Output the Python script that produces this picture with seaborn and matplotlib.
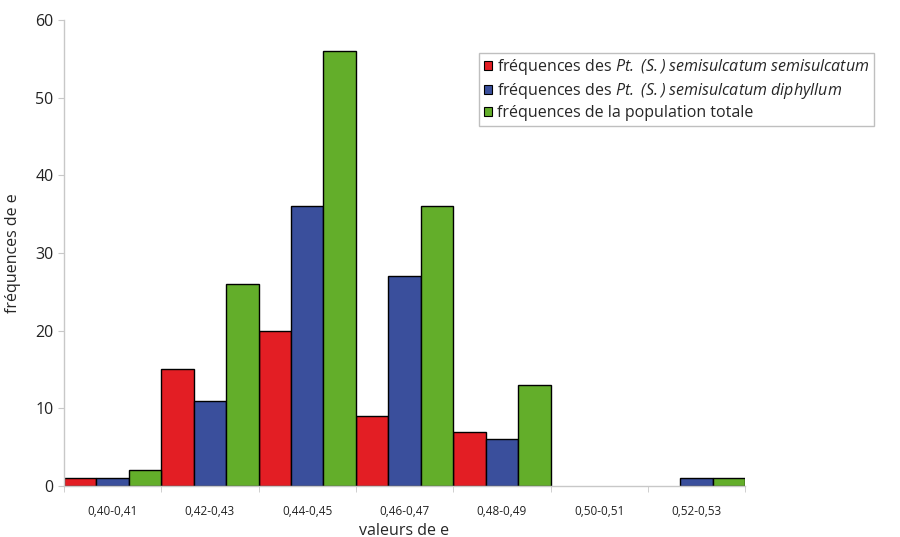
import numpy as np
import pandas as pd
import seaborn as sns
import matplotlib.pyplot as plt

# -----------------------------
# Data
# -----------------------------
classes = ['0,40-0,41', '0,42-0,43', '0,44-0,45', '0,46-0,47', '0,48-0,49', '0,50-0,51', '0,52-0,53']
freq_semisulcatum = [1, 15, 20, 9, 7, 0, 0]
freq_diphyllum = [1, 11, 36, 27, 6, 0, 1]
freq_totale = [2, 26, 56, 36, 13, 0, 1]

labels = [r'fréquences des $\mathit{Pt.}$ $\mathit{(S.)}$ $\mathit{semisulcatum}$ $\mathit{semisulcatum}$',
          r'fréquences des $\mathit{Pt.}$ $\mathit{(S.)}$ $\mathit{semisulcatum}$ $\mathit{diphyllum}$',
          'fréquences de la population totale']
colors = ['#e31e24', '#3a4f9c', '#63ae2a']

df = pd.DataFrame({
    'classe': classes * 3,
    'freq': freq_semisulcatum + freq_diphyllum + freq_totale,
    'serie': [labels[0]] * 7 + [labels[1]] * 7 + [labels[2]] * 7,
})

# -----------------------------
# Plot
# -----------------------------
sns.set_style('white')
plt.rcParams['font.family'] = ['Open Sans', 'DejaVu Sans']
plt.rcParams['mathtext.fontset'] = 'custom'
plt.rcParams['mathtext.it'] = 'Open Sans:italic'
plt.rcParams['mathtext.rm'] = 'Open Sans:italic'

fig = plt.figure(figsize=(9, 5.37), dpi=100)
ax = fig.add_axes([0.071, 0.095, 0.757, 0.868])

sns.barplot(data=df, x='classe', y='freq', hue='serie', palette=colors,
            width=1, edgecolor='black', linewidth=1, saturation=1, ax=ax)

# hide empty bars
for cont in ax.containers:
    for p in cont:
        if p.get_height() == 0:
            p.set_visible(False)

ax.set_xlim(-0.5, 6.5)
ax.set_ylim(0, 60)
ax.set_yticks(range(0, 61, 10))
ax.tick_params(axis='y', labelsize=11.5, length=4, left=True, colors='#222222')
ax.tick_params(axis='y', color='#c8c8c8')
ax.set_xticks(range(7))
ax.set_xticklabels(classes, fontsize=8.5, color='#222222')
ax.tick_params(axis='x', which='major', length=0, pad=14)
ax.set_xticks(np.arange(-0.5, 7, 1), minor=True)
ax.tick_params(axis='x', which='minor', length=4, color='#c8c8c8', bottom=True)

for s in ['top', 'right']:
    ax.spines[s].set_visible(False)
for s in ['left', 'bottom']:
    ax.spines[s].set_color('#c8c8c8')
    ax.spines[s].set_linewidth(1)

ax.set_xlabel('valeurs de e', fontsize=11.5, labelpad=3)
ax.set_ylabel('fréquences de e', fontsize=11.5, labelpad=10)

leg = ax.legend(loc='upper left', bbox_to_anchor=(0.598, 0.947), fontsize=11.5,
                frameon=True, fancybox=False, edgecolor='#b0b0b0',
                handlelength=0.5, handleheight=0.5, handletextpad=0.3,
                labelspacing=0.25, borderpad=0.3, title=None)
leg.get_frame().set_linewidth(1)
for h in leg.legend_handles:
    h.set_edgecolor('black')
    h.set_linewidth(0.8)

fig.savefig('out.png', dpi=100)
